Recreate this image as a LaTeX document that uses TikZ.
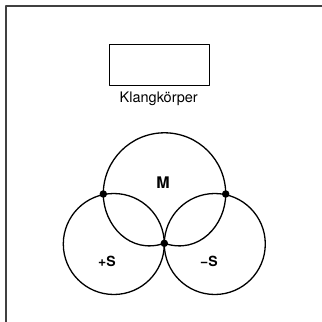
\documentclass[tikz,border=0pt]{standalone}
\usepackage{fontspec}
\setmainfont{TeX Gyre Heros}
\tikzset{
  dot/.style={circle, fill=black, inner sep=0pt, minimum size=7.5pt},
  lobe/.style={line width=1.3pt},
  lbl/.style={font=\fontsize{14}{16}\selectfont\bfseries, inner sep=0pt}
}
\begin{document}
\begin{tikzpicture}[x=1pt,y=-1pt, line join=round, line cap=round, font=\fontsize{14.5}{16}\selectfont]
		\useasboundingbox (0,0) rectangle (322,322);
		% frame
		\draw[black!75, line width=1.1pt] (6,322)--(6,6)--(322,6);
		% Klangkoerper
		\node[draw, line width=1.5pt, minimum width=100pt, minimum height=41pt, inner sep=0pt] (body) at (159.7,65) {};
		\node[anchor=base, inner sep=0pt] (bodylbl) at (158.7,102.8) {Klangkörper};
		% dots
		\node[dot] (L) at (103.3,194) {};
		\node[dot] (R) at (225.7,194) {};
		\node[dot] (B) at (164.3,243.3) {};
		% S circles
		\draw[lobe] (113.8,244) circle (50.5pt);
		\draw[lobe] (214.8,244) circle (50.5pt);
		% M
		\draw[lobe] (L.center) arc (180:0:61.2pt)
		(R.center) .. controls (225.7,225) and (199,255) .. (B.center)
		(L.center) .. controls (103.3,225) and (130,255) .. (B.center);
		% labels
		\node[lbl, font=\fontsize{16}{18}\selectfont\bfseries] (M) at (163,182.3) {M};
		\node[lbl] (Sp) at (107,261.8) {+S};
		\node[lbl] (Sm) at (209,261.4) {−S};
	\end{tikzpicture}
\end{document}
